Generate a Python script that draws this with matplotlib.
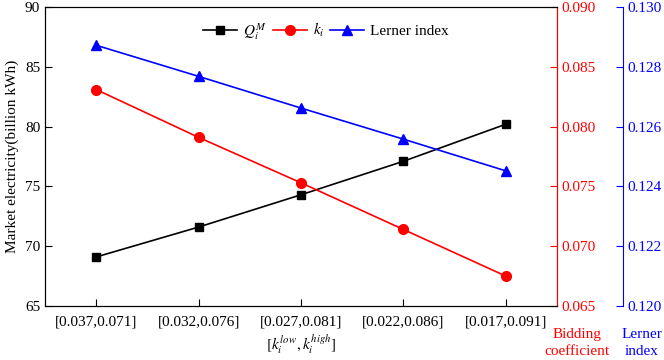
import matplotlib.pyplot as plt
import numpy as np

plt.rcParams['font.family'] = ['Liberation Serif', 'DejaVu Serif']
plt.rcParams['mathtext.fontset'] = 'stix'

categories = ["[0.037,0.071]", "[0.032,0.076]", "[0.027,0.081]", "[0.022,0.086]", "[0.017,0.091]"]
market_q = [69.1, 71.6, 74.3, 77.1, 80.2]
bidding_k = [0.0831, 0.0791, 0.0753, 0.0714, 0.0675]
lerner = [0.12872, 0.12768, 0.12662, 0.12558, 0.12452]

x = np.arange(len(categories))

fig = plt.figure(figsize=(6.64, 3.6), dpi=100)
ax = fig.add_axes([45 / 664, 1 - 306 / 360, 512 / 664, 299 / 360])
ax2 = ax.twinx()
ax3 = ax.twinx()

l1, = ax.plot(x, market_q, color="black", marker="s", ms=6, lw=1.2, label=r"$Q_i^M$")
l2, = ax2.plot(x, bidding_k, color="red", marker="o", ms=7, lw=1.2, label=r"$k_i$")
l3, = ax3.plot(x, lerner, color="blue", marker="^", ms=7, lw=1.2, label="Lerner index")

ax.set_xlim(-0.5, 4.5)
ax.set_ylim(65, 90)
ax.set_yticks(np.arange(65, 91, 5))
ax.set_xticks(x)
ax.set_xticklabels(categories)
ax.tick_params(axis="both", direction="in", labelsize=11, length=5, top=False)
ax.tick_params(axis="x", pad=7)
ax.set_ylabel("Market electricity(billion kWh)", fontsize=11, labelpad=4)
ax.set_xlabel(r"$[k_i^{low},k_i^{high}]$", fontsize=11, labelpad=3)

ax2.set_ylim(0.065, 0.090)
ax2.set_yticks(np.arange(0.065, 0.0901, 0.005))
ax2.set_yticklabels([f"{v:.3f}" for v in np.arange(0.065, 0.0901, 0.005)])
ax2.tick_params(axis="y", direction="in", colors="red", labelsize=11, length=5)
ax2.spines["right"].set_color("red")

ax3.set_ylim(0.120, 0.130)
ax3.set_yticks(np.arange(0.120, 0.1301, 0.002))
ax3.set_yticklabels([f"{v:.3f}" for v in np.arange(0.120, 0.1301, 0.002)])
ax3.spines["right"].set_position(("axes", (623 - 45) / 512))
ax3.spines["right"].set_color("blue")
ax3.tick_params(axis="y", direction="in", colors="blue", labelsize=11, length=5)
for s in ["top", "left", "bottom"]:
    ax3.spines[s].set_visible(False)

fig.text(577 / 664, 1 - 343 / 360, "Bidding\ncoefficient", color="red", fontsize=11,
         ha="center", va="center", linespacing=1.35)
fig.text(642 / 664, 1 - 343 / 360, "Lerner\nindex", color="blue", fontsize=11,
         ha="center", va="center", linespacing=1.35)

ax.legend(handles=[l1, l2, l3], loc="upper center", bbox_to_anchor=(0.549, 1.0), ncol=3,
          frameon=False, fontsize=11, handlelength=2.2, columnspacing=0.4, handletextpad=0.4)

fig.savefig("out.png", dpi=100)
